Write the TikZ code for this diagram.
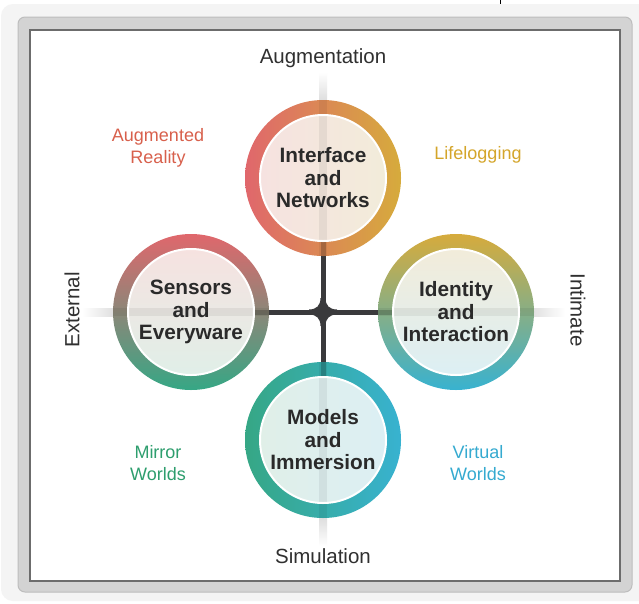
\documentclass[tikz,border=0pt]{standalone}
\usepackage{fontspec}
\setmainfont{Liberation Sans}
\definecolor{bgout}{HTML}{F4F4F4}
\definecolor{framegray}{HTML}{D3D3D3}
\definecolor{frameedge}{HTML}{BDBDBD}
\definecolor{innerline}{HTML}{6C6C6C}
\definecolor{bandgray}{HTML}{DCDCDC}
\definecolor{conndark}{HTML}{3A3A3C}
\definecolor{textdark}{HTML}{2A2A2A}
\definecolor{axisgray}{HTML}{303030}
\definecolor{ringred}{HTML}{E0676C}
\definecolor{ringgold}{HTML}{D6AB3C}
\definecolor{ringgreen}{HTML}{36A785}
\definecolor{ringcyan}{HTML}{38B2D0}
\definecolor{fillred}{HTML}{F6E2E0}
\definecolor{fillgold}{HTML}{F2ECDA}
\definecolor{fillgreen}{HTML}{E0EFE8}
\definecolor{fillcyan}{HTML}{DCEFF4}
\definecolor{qred}{HTML}{D8604C}
\definecolor{qgold}{HTML}{D4A52A}
\definecolor{qgreen}{HTML}{2E9E6E}
\definecolor{qcyan}{HTML}{35AAD0}
\begin{document}
\begin{tikzpicture}[x=1pt,y=-1pt,
  ringnode/.style={circle, minimum size=156pt, inner sep=0pt},
  innernode/.style={circle, minimum size=126pt, inner sep=0pt},
  ctext/.style={font=\fontsize{20.8}{22.5}\selectfont\bfseries, text=textdark, align=center},
  axislabel/.style={font=\fontsize{20.5}{22}\selectfont, text=axisgray},
  quadlabel/.style={font=\fontsize{18}{22}\selectfont, align=center},
  conn/.style={line width=5pt, draw=conndark},
  band/.style={line width=8pt, draw=black, opacity=0.06},
  ringband/.style={line width=5pt, draw=black, opacity=0.2},
  innerrim/.style={draw=white, line width=2pt}
]
\useasboundingbox (0,0) rectangle (639,603);
\fill[white] (0,0) rectangle (639,603);
\draw[black, line width=1pt] (500,0) -- (500,6);
% frame
\fill[bgout, rounded corners=12pt] (1,4) rectangle (660,601);
\filldraw[fill=framegray, draw=frameedge, line width=1pt, rounded corners=7pt] (18,17) rectangle (632,592);
\filldraw[fill=white, draw=innerline, line width=1.5pt] (30,30) rectangle (620,581);

% node placeholders
\node[ringnode] (inet) at (323,178) {};
\node[ringnode] (sens) at (191,312) {};
\node[ringnode] (iden) at (456,312) {};
\node[ringnode] (mod) at (323,440) {};
\node[innernode] (inetin) at (323,178) {};
\node[innernode] (sensin) at (191,312) {};
\node[innernode] (idenin) at (456,312) {};
\node[innernode] (modin) at (323,440) {};
\coordinate (o) at (323,312);

% outer light bands
\shade[top color=white, bottom color=bandgray] (319,72) rectangle (327,102);
\shade[top color=bandgray, bottom color=white] (319,516) rectangle (327,546);
\shade[left color=white, right color=bandgray] (82,308) rectangle (117,316);
\shade[left color=bandgray, right color=white] (528,308) rectangle (565,316);

% connectors
\draw[conn] (o) -- (inet.south);
\draw[conn] (o) -- (mod.north);
\draw[conn] (o) -- (sens.east);
\draw[conn] (o) -- (iden.west);
\fill[conndark, shift={(o)}] (-2.5,-14) .. controls (-2.5,-6.5) and (-6.5,-2.5) .. (-14,-2.5)
  -- (-14,2.5) .. controls (-6.5,2.5) and (-2.5,6.5) .. (-2.5,14)
  -- (2.5,14) .. controls (2.5,6.5) and (6.5,2.5) .. (14,2.5)
  -- (14,-2.5) .. controls (6.5,-2.5) and (2.5,-6.5) .. (2.5,-14) -- cycle;

% rings
\shade[left color=ringred, right color=ringgold, even odd rule]
  (inet.center) circle[radius=78pt] (inet.center) circle[radius=63pt];
\shade[left color=fillred, right color=fillgold] (inet.center) circle[radius=63pt];
\shade[top color=ringred, bottom color=ringgreen, even odd rule]
  (sens.center) circle[radius=78pt] (sens.center) circle[radius=63pt];
\shade[top color=fillred, bottom color=fillgreen] (sens.center) circle[radius=63pt];
\shade[top color=ringgold, bottom color=ringcyan, even odd rule]
  (iden.center) circle[radius=78pt] (iden.center) circle[radius=63pt];
\shade[top color=fillgold, bottom color=fillcyan] (iden.center) circle[radius=63pt];
\shade[left color=ringgreen, right color=ringcyan, even odd rule]
  (mod.center) circle[radius=78pt] (mod.center) circle[radius=63pt];
\shade[left color=fillgreen, right color=fillcyan] (mod.center) circle[radius=63pt];

% bands seen through the circles
\draw[band] (inet.north) -- (inet.south);
\draw[band] (mod.north) -- (mod.south);
\draw[band] (sens.west) -- (sens.east);
\draw[band] (iden.west) -- (iden.east);
\draw[ringband] (inet.south) -- (inetin.south);
\draw[ringband] (mod.north) -- (modin.north);
\draw[ringband] (sens.east) -- (sensin.east);
\draw[ringband] (iden.west) -- (idenin.west);

\draw[innerrim] (inet.center) circle[radius=63pt];
\draw[innerrim] (sens.center) circle[radius=63pt];
\draw[innerrim] (iden.center) circle[radius=63pt];
\draw[innerrim] (mod.center) circle[radius=63pt];

% circle texts
\node[ctext] (inett) at (inet) {Interface\\and\\Networks};
\node[ctext] (senst) at (sens) {Sensors\\and\\Everyware};
\node[ctext] (ident) at (iden) {Identity\\and\\Interaction};
\node[ctext] (modt) at (mod) {Models\\and\\Immersion};

% axis labels
\node[axislabel] (aug) at (323,58) {Augmentation};
\node[axislabel] (sim) at (323,556) {Simulation};
\node[axislabel, rotate=90] (ext) at (72,310) {External};
\node[axislabel, rotate=-90] (inti) at (578,310) {Intimate};

% quadrant labels
\node[quadlabel, text=qred] (ar) at (158,148) {Augmented\\Reality};
\node[quadlabel, text=qgold] (ll) at (478,155) {Lifelogging};
\node[quadlabel, text=qgreen] (mw) at (158,463) {Mirror\\Worlds};
\node[quadlabel, text=qcyan] (vw) at (478,463) {Virtual\\Worlds};
\end{tikzpicture}
\end{document}
